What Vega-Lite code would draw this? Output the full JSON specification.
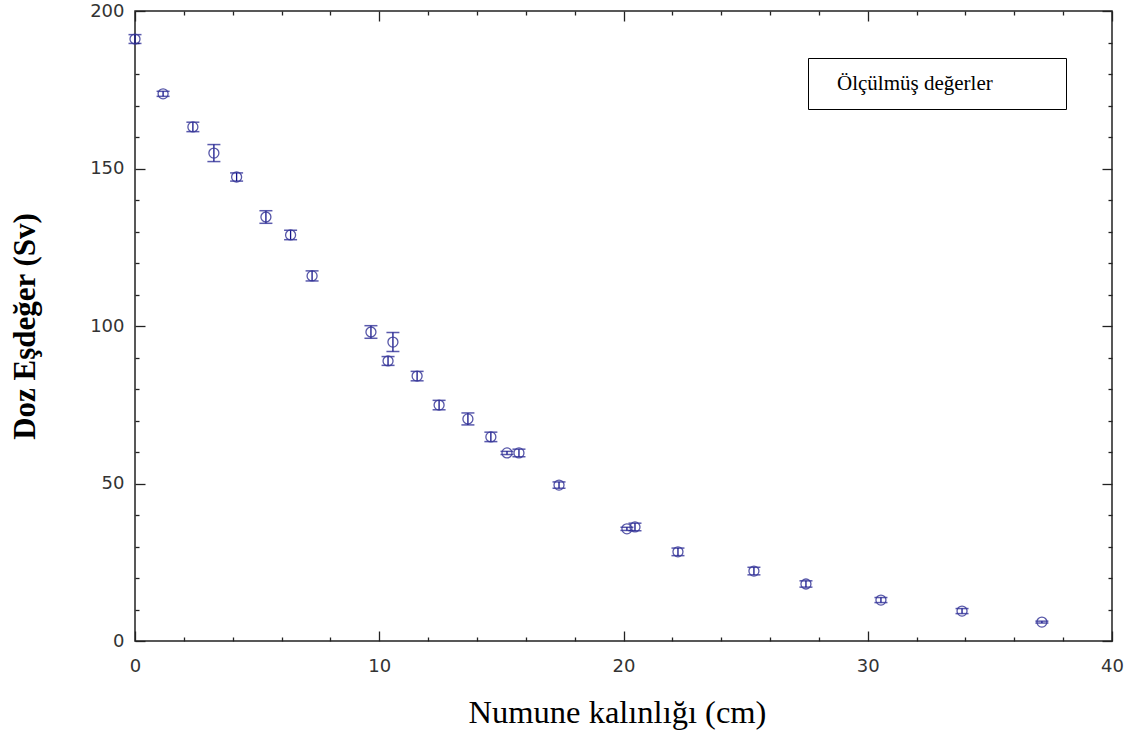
{
  "$schema": "https://vega.github.io/schema/vega-lite/v6.json",
  "width": 977,
  "height": 630,
  "autosize": "none",
  "padding": {"left": 135, "top": 11, "right": 21, "bottom": 94},
  "background": "white",
  "config": {
    "view": {"stroke": "#222", "strokeWidth": 1.5},
    "axis": {"domain": false, "grid": false, "labelFlush": false, "tickColor": "#222", "tickWidth": 1.3, "labelFont": "DejaVu Sans", "labelFontSize": 18, "labelColor": "#333"}
  },
  "data": {
    "values": [
      {"x": 0.0, "y": 191.1, "lo": 189.7, "hi": 192.5},
      {"x": 1.15, "y": 173.7, "lo": 172.9, "hi": 174.5},
      {"x": 2.37, "y": 163.2, "lo": 161.7, "hi": 164.7},
      {"x": 3.23, "y": 154.9, "lo": 152.2, "hi": 157.6},
      {"x": 4.16, "y": 147.3, "lo": 146.0, "hi": 148.6},
      {"x": 5.36, "y": 134.6, "lo": 132.6, "hi": 136.6},
      {"x": 6.37, "y": 128.9, "lo": 127.4, "hi": 130.4},
      {"x": 7.25, "y": 115.9, "lo": 114.3, "hi": 117.5},
      {"x": 9.66, "y": 98.1, "lo": 96.1, "hi": 100.1},
      {"x": 10.56, "y": 94.9, "lo": 91.9, "hi": 97.9},
      {"x": 10.36, "y": 88.9, "lo": 87.5, "hi": 90.3},
      {"x": 11.55, "y": 84.1, "lo": 82.6, "hi": 85.6},
      {"x": 12.45, "y": 74.9, "lo": 73.4, "hi": 76.4},
      {"x": 13.63, "y": 70.5, "lo": 68.6, "hi": 72.4},
      {"x": 14.57, "y": 64.8, "lo": 63.3, "hi": 66.3},
      {"x": 15.23, "y": 59.7, "lo": 59.2, "hi": 60.2},
      {"x": 15.72, "y": 59.7, "lo": 58.5, "hi": 60.9},
      {"x": 17.36, "y": 49.5, "lo": 48.5, "hi": 50.5},
      {"x": 20.14, "y": 35.6, "lo": 35.1, "hi": 36.1},
      {"x": 20.47, "y": 36.2, "lo": 35.0, "hi": 37.4},
      {"x": 22.23, "y": 28.3, "lo": 27.1, "hi": 29.5},
      {"x": 25.34, "y": 22.2, "lo": 21.0, "hi": 23.4},
      {"x": 27.47, "y": 18.1, "lo": 17.1, "hi": 19.1},
      {"x": 30.54, "y": 13.0, "lo": 12.2, "hi": 13.8},
      {"x": 33.86, "y": 9.5, "lo": 8.7, "hi": 10.3},
      {"x": 37.13, "y": 6.0, "lo": 5.7, "hi": 6.3}
    ]
  },
  "layer": [
    {
      "mark": {"type": "rule", "color": "#14148a", "strokeWidth": 1.3},
      "encoding": {
        "x": {"field": "x", "type": "quantitative", "scale": {"domain": [0, 40], "nice": false, "zero": false},
          "axis": {"orient": "bottom", "values": [0, 10, 20, 30, 40], "tickSize": -10, "labelPadding": 26,
            "title": "Numune kalınlığı (cm)", "titleFont": "Liberation Serif", "titleFontSize": 32.5, "titleFontWeight": "normal", "titleColor": "#000", "titlePadding": 21, "titleX": 482}},
        "y": {"field": "lo", "type": "quantitative", "scale": {"domain": [0, 200], "nice": false, "zero": false},
          "axis": {"orient": "left", "values": [0, 50, 100, 150, 200], "tickSize": -10, "labelPadding": 21,
            "title": "Doz Eşdeğer (Sv)", "titleFont": "Liberation Serif", "titleFontSize": 31, "titleFontWeight": "bold", "titleColor": "#000", "titlePadding": 48}},
        "y2": {"field": "hi"}
      }
    },
    {
      "mark": {"type": "tick", "orient": "horizontal", "size": 13, "thickness": 1.5, "color": "#14148a"},
      "encoding": {
        "x": {"field": "x", "type": "quantitative",
          "axis": {"orient": "bottom", "values": [2, 4, 6, 8, 12, 14, 16, 18, 22, 24, 26, 28, 32, 34, 36, 38], "tickSize": -4, "labels": false, "title": null}},
        "y": {"field": "lo", "type": "quantitative",
          "axis": {"orient": "left", "values": [10, 20, 30, 40, 60, 70, 80, 90, 110, 120, 130, 140, 160, 170, 180, 190], "tickSize": -4, "labels": false, "title": null}}
      }
    },
    {
      "mark": {"type": "tick", "orient": "horizontal", "size": 13, "thickness": 1.5, "color": "#14148a"},
      "encoding": {
        "x": {"field": "x", "type": "quantitative",
          "axis": {"orient": "top", "values": [0, 10, 20, 30, 40], "tickSize": -10, "labels": false, "title": null}},
        "y": {"field": "hi", "type": "quantitative",
          "axis": {"orient": "right", "values": [0, 50, 100, 150, 200], "tickSize": -10, "labels": false, "title": null}}
      }
    },
    {
      "mark": {"type": "point", "shape": "circle", "filled": false, "size": 100, "strokeWidth": 1.3, "opacity": 0.85},
      "encoding": {
        "x": {"field": "x", "type": "quantitative",
          "axis": {"orient": "top", "values": [2, 4, 6, 8, 12, 14, 16, 18, 22, 24, 26, 28, 32, 34, 36, 38], "tickSize": -4, "labels": false, "title": null}},
        "y": {"field": "y", "type": "quantitative",
          "axis": {"orient": "right", "values": [10, 20, 30, 40, 60, 70, 80, 90, 110, 120, 130, 140, 160, 170, 180, 190], "tickSize": -4, "labels": false, "title": null}},
        "color": {"datum": "Ölçülmüş değerler", "type": "nominal", "scale": {"range": ["#3a3a9a"]},
          "legend": {"orient": "none", "legendX": 673, "legendY": 47,
            "title": ".", "titleOrient": "right", "titleFont": "Liberation Serif", "titleFontSize": 21, "titleOpacity": 0, "titlePadding": 52,
            "strokeColor": "#000", "fillColor": "#fff", "padding": 15,
            "labelFont": "Liberation Serif", "labelFontSize": 21, "labelColor": "#000", "labelLimit": 0,
            "symbolOpacity": 0, "symbolStrokeWidth": 0, "symbolSize": 16, "labelOffset": -7}}
      }
    }
  ],
  "resolve": {"axis": {"x": "independent", "y": "independent"}}
}
